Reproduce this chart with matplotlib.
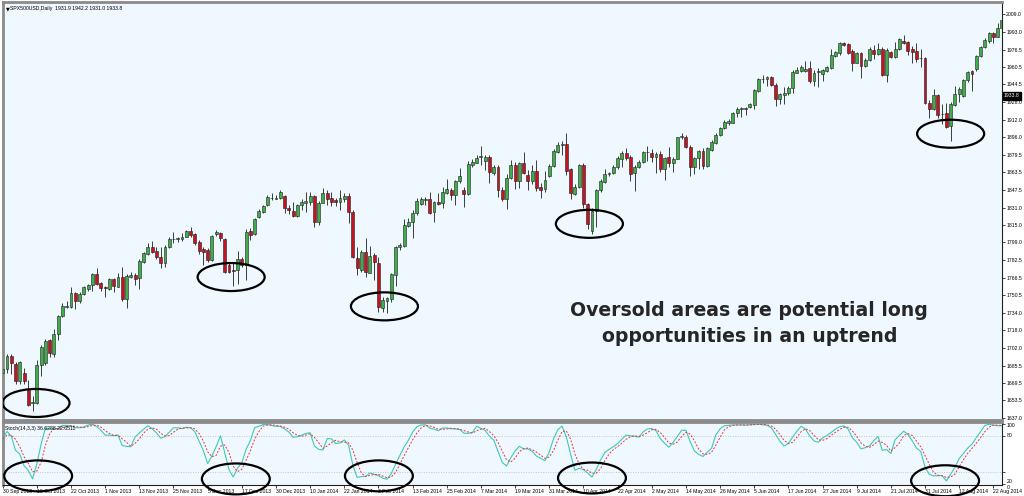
import matplotlib.pyplot as plt
import matplotlib.transforms as mtransforms
from matplotlib.patches import Ellipse
import numpy as np
import pandas as pd

# daily SPX500USD candles, 30 Sep 2013 .. 26 Aug 2014
opens = [1679.0, 1682.0, 1694.6, 1687.0, 1671.0, 1679.0, 1663.0, 1650.7, 1651.3, 1686.0,
         1687.6, 1709.0, 1696.1, 1714.6, 1731.1, 1739.8, 1739.7, 1752.0, 1745.3, 1751.4,
         1756.3, 1759.4, 1769.5, 1761.2, 1757.5, 1755.7, 1764.9, 1758.2, 1766.8, 1746.5,
         1767.4, 1768.9, 1765.8, 1781.2, 1788.2, 1795.0, 1790.7, 1785.8, 1780.3, 1794.4,
         1801.8, 1802.1, 1801.8, 1804.2, 1809.4, 1806.7, 1799.6, 1792.5, 1791.9, 1782.7,
         1806.4, 1807.3, 1801.8, 1778.1, 1773.5, 1773.5, 1783.3, 1778.1, 1809.7, 1806.6,
         1822.0, 1827.2, 1833.3, 1840.0, 1839.2, 1839.5, 1841.6, 1830.6, 1828.1, 1823.2,
         1833.3, 1834.9, 1836.4, 1841.6, 1818.0, 1835.5, 1844.7, 1839.5, 1837.9, 1836.4,
         1838.5, 1841.6, 1827.2, 1784.2, 1773.5, 1790.4, 1771.0, 1787.3, 1779.6, 1738.2,
         1745.2, 1746.4, 1768.9, 1794.3, 1795.6, 1814.0, 1818.0, 1825.7, 1834.2, 1838.0,
         1838.5, 1827.2, 1836.4, 1835.5, 1844.7, 1847.1, 1842.5, 1855.7, 1847.1, 1843.5,
         1870.2, 1872.3, 1877.5, 1874.2, 1877.2, 1863.1, 1868.6, 1847.1, 1838.6, 1857.9,
         1870.2, 1855.8, 1871.8, 1861.0, 1855.8, 1865.0, 1849.7, 1847.8, 1860.1, 1869.3,
         1882.5, 1889.0, 1889.6, 1866.2, 1843.5, 1849.6, 1870.2, 1834.3, 1809.7, 1828.1,
         1847.2, 1854.9, 1861.9, 1862.5, 1868.1, 1875.4, 1881.6, 1877.3, 1863.2, 1868.7,
         1873.3, 1882.2, 1881.6, 1877.3, 1880.4, 1866.2, 1877.3, 1872.4, 1876.0, 1896.0,
         1896.3, 1887.1, 1868.7, 1876.4, 1883.4, 1869.3, 1884.0, 1890.8, 1897.8, 1904.0,
         1908.6, 1909.2, 1917.8, 1922.2, 1922.0, 1923.3, 1925.5, 1938.7, 1949.1, 1949.1,
         1950.9, 1943.9, 1930.7, 1934.7, 1936.2, 1940.8, 1955.2, 1957.1, 1957.1, 1959.2,
         1947.9, 1956.0, 1954.0, 1957.1, 1959.2, 1970.6, 1973.6, 1982.9, 1981.6, 1975.5,
         1964.4, 1973.0, 1961.4, 1966.9, 1976.1, 1972.4, 1976.7, 1953.1, 1974.6, 1969.3,
         1976.7, 1984.7, 1983.8, 1976.7, 1975.5, 1968.6, 1968.4, 1927.6, 1921.5, 1934.7,
         1917.0, 1917.8, 1906.1, 1925.5, 1935.6, 1933.8, 1948.5, 1957.1, 1958.3, 1970.6,
         1979.2, 1984.7, 1992.1, 1988.4, 1996.1]
highs = [1686.0, 1696.0, 1696.0, 1689.0, 1690.0, 1683.0, 1672.0, 1657.0, 1690.6, 1704.0,
         1710.0, 1710.0, 1718.9, 1732.4, 1743.4, 1745.3, 1757.5, 1753.0, 1753.6, 1758.8,
         1761.0, 1770.4, 1775.7, 1762.8, 1758.8, 1765.8, 1765.8, 1771.1, 1776.0, 1769.8,
         1771.4, 1770.4, 1783.3, 1790.4, 1798.7, 1800.5, 1795.0, 1795.0, 1796.5, 1803.6,
         1808.8, 1804.2, 1807.3, 1810.3, 1812.8, 1807.3, 1801.2, 1795.0, 1793.5, 1805.7,
         1810.3, 1808.8, 1802.7, 1780.3, 1779.6, 1791.3, 1785.2, 1811.0, 1811.8, 1821.1,
         1829.3, 1833.3, 1842.6, 1844.7, 1842.5, 1847.1, 1842.5, 1833.3, 1836.4, 1834.3,
         1838.5, 1845.6, 1845.6, 1842.5, 1837.3, 1848.7, 1847.1, 1845.6, 1839.5, 1847.1,
         1844.1, 1844.1, 1828.7, 1794.3, 1792.0, 1802.6, 1795.6, 1788.8, 1785.1, 1748.9,
         1748.9, 1771.0, 1795.6, 1798.0, 1820.1, 1821.1, 1828.7, 1839.5, 1841.0, 1841.0,
         1845.6, 1837.3, 1844.7, 1850.2, 1857.0, 1848.7, 1856.4, 1867.1, 1850.2, 1874.2,
         1875.4, 1879.4, 1887.7, 1879.4, 1879.4, 1870.2, 1870.2, 1850.2, 1861.9, 1874.8,
         1873.3, 1873.3, 1882.5, 1865.6, 1870.2, 1874.8, 1853.3, 1865.0, 1871.1, 1884.6,
         1891.7, 1892.6, 1899.4, 1867.1, 1852.7, 1871.1, 1871.8, 1835.5, 1830.3, 1847.8,
         1857.0, 1866.2, 1863.5, 1870.2, 1878.5, 1883.4, 1885.6, 1879.4, 1870.2, 1874.8,
         1883.4, 1887.7, 1884.6, 1882.5, 1883.4, 1877.9, 1887.1, 1877.9, 1896.3, 1900.0,
         1897.8, 1888.6, 1877.9, 1884.0, 1885.6, 1887.1, 1893.2, 1899.4, 1905.5, 1911.7,
         1912.3, 1919.3, 1923.3, 1924.0, 1924.0, 1927.0, 1939.9, 1950.0, 1953.1, 1952.2,
         1952.2, 1945.4, 1936.8, 1941.7, 1943.0, 1957.7, 1960.8, 1962.3, 1966.3, 1966.3,
         1957.7, 1959.2, 1958.3, 1961.4, 1976.7, 1975.5, 1983.8, 1983.8, 1982.9, 1976.7,
         1974.6, 1974.6, 1968.4, 1979.2, 1980.7, 1982.3, 1979.2, 1977.6, 1975.5, 1983.8,
         1986.9, 1989.9, 1984.7, 1979.8, 1982.9, 1976.7, 1969.3, 1930.1, 1939.9, 1935.6,
         1926.4, 1927.6, 1928.5, 1943.0, 1941.7, 1949.1, 1957.1, 1957.7, 1971.5, 1979.8,
         1986.9, 1993.0, 1993.0, 2000.7, 2005.3]
lows = [1670.0, 1678.3, 1677.7, 1668.5, 1668.6, 1668.5, 1648.3, 1643.6, 1650.5, 1675.9,
        1686.0, 1693.7, 1693.7, 1709.0, 1729.9, 1738.8, 1738.8, 1737.3, 1743.4, 1750.5,
        1754.0, 1754.2, 1759.7, 1754.2, 1749.0, 1755.1, 1753.6, 1757.5, 1745.3, 1738.2,
        1766.5, 1759.7, 1755.7, 1780.3, 1787.3, 1789.5, 1783.3, 1775.0, 1776.0, 1793.5,
        1798.1, 1799.6, 1800.5, 1803.6, 1804.2, 1796.5, 1788.2, 1777.8, 1781.2, 1782.1,
        1805.0, 1800.5, 1771.0, 1770.4, 1758.8, 1760.6, 1776.6, 1764.0, 1801.1, 1805.7,
        1821.1, 1826.3, 1832.4, 1837.9, 1838.5, 1838.5, 1825.7, 1825.0, 1822.0, 1822.6,
        1828.7, 1827.2, 1833.3, 1813.4, 1814.9, 1834.9, 1833.3, 1832.4, 1832.4, 1828.7,
        1836.4, 1816.4, 1784.2, 1768.9, 1771.9, 1767.3, 1770.4, 1764.3, 1735.1, 1735.1,
        1733.6, 1744.3, 1758.7, 1791.9, 1795.0, 1812.8, 1802.6, 1824.1, 1833.3, 1833.3,
        1825.0, 1818.0, 1833.3, 1830.3, 1843.5, 1837.9, 1833.3, 1853.3, 1831.8, 1842.5,
        1868.6, 1871.7, 1870.2, 1865.6, 1853.3, 1860.9, 1841.0, 1837.3, 1829.4, 1857.0,
        1847.8, 1848.7, 1861.9, 1847.2, 1852.7, 1846.6, 1839.5, 1845.7, 1859.5, 1868.1,
        1881.6, 1879.4, 1861.0, 1838.6, 1842.6, 1848.7, 1830.3, 1811.0, 1806.7, 1812.8,
        1845.7, 1853.9, 1860.5, 1861.9, 1866.2, 1868.1, 1874.8, 1855.8, 1846.6, 1867.1,
        1872.4, 1874.2, 1873.3, 1862.5, 1864.1, 1856.4, 1868.1, 1864.1, 1875.4, 1893.9,
        1885.6, 1860.1, 1861.9, 1866.2, 1866.2, 1868.7, 1883.4, 1889.6, 1896.9, 1903.0,
        1907.1, 1908.6, 1914.7, 1914.1, 1916.3, 1922.4, 1921.5, 1937.7, 1946.0, 1943.0,
        1943.0, 1924.5, 1926.4, 1926.4, 1934.7, 1936.2, 1954.6, 1956.2, 1956.2, 1946.0,
        1943.0, 1941.7, 1947.9, 1956.2, 1958.3, 1970.0, 1971.5, 1979.8, 1972.4, 1957.1,
        1963.8, 1950.0, 1960.8, 1966.3, 1967.5, 1971.5, 1952.2, 1946.9, 1968.4, 1968.4,
        1976.1, 1981.6, 1971.5, 1964.4, 1965.4, 1960.8, 1926.4, 1913.2, 1920.9, 1913.2,
        1908.0, 1904.0, 1892.6, 1924.5, 1928.5, 1933.2, 1947.0, 1938.7, 1957.1, 1969.4,
        1977.6, 1982.3, 1982.3, 1987.8, 1994.5]
closes = [1682.0, 1694.6, 1687.5, 1671.0, 1688.8, 1671.0, 1648.9, 1652.2, 1686.0, 1702.3,
          1708.4, 1696.8, 1714.6, 1731.1, 1740.7, 1740.4, 1752.0, 1745.3, 1751.4, 1757.5,
          1759.4, 1769.5, 1761.0, 1757.0, 1757.0, 1764.9, 1758.8, 1766.8, 1746.8, 1768.0,
          1768.9, 1765.5, 1782.1, 1789.5, 1795.0, 1790.4, 1785.8, 1780.3, 1795.0, 1802.1,
          1802.1, 1802.4, 1804.2, 1809.4, 1805.7, 1798.1, 1790.7, 1790.4, 1782.7, 1804.8,
          1808.2, 1802.7, 1772.0, 1772.0, 1772.9, 1783.3, 1778.1, 1808.3, 1805.7, 1820.1,
          1828.1, 1832.4, 1841.0, 1839.5, 1839.5, 1845.6, 1830.3, 1828.7, 1823.2, 1833.3,
          1836.4, 1837.3, 1841.6, 1818.0, 1835.5, 1844.7, 1838.5, 1836.4, 1836.4, 1839.5,
          1841.6, 1827.2, 1785.1, 1775.0, 1790.4, 1771.9, 1786.4, 1781.2, 1739.1, 1745.8,
          1747.4, 1769.8, 1794.3, 1796.5, 1814.9, 1818.0, 1826.3, 1837.3, 1838.5, 1838.8,
          1826.3, 1836.4, 1834.2, 1845.6, 1847.8, 1842.5, 1855.7, 1860.0, 1843.5, 1871.1,
          1873.2, 1876.3, 1877.8, 1877.8, 1864.0, 1868.0, 1847.1, 1838.5, 1857.9, 1870.2,
          1855.8, 1871.8, 1862.5, 1855.8, 1865.0, 1848.7, 1847.2, 1856.4, 1869.3, 1883.4,
          1888.6, 1889.4, 1865.0, 1844.1, 1849.6, 1870.2, 1834.3, 1815.9, 1828.1, 1847.2,
          1855.8, 1861.9, 1862.2, 1868.1, 1876.4, 1881.6, 1876.4, 1861.9, 1868.7, 1873.3,
          1882.5, 1882.0, 1877.3, 1880.4, 1866.2, 1876.4, 1872.4, 1876.0, 1895.7, 1896.3,
          1887.1, 1868.7, 1876.4, 1883.4, 1869.3, 1885.6, 1891.7, 1897.8, 1904.0, 1910.1,
          1911.0, 1918.4, 1921.5, 1922.4, 1922.4, 1926.4, 1939.3, 1949.1, 1949.4, 1950.9,
          1943.9, 1930.7, 1935.6, 1936.8, 1940.8, 1956.2, 1957.7, 1960.8, 1958.3, 1947.9,
          1955.2, 1956.2, 1957.7, 1960.1, 1971.5, 1974.6, 1982.9, 1980.7, 1973.6, 1964.4,
          1973.0, 1961.4, 1966.9, 1976.7, 1972.4, 1976.7, 1953.1, 1976.1, 1969.3, 1976.7,
          1985.9, 1982.9, 1975.5, 1974.6, 1967.5, 1968.4, 1927.0, 1921.5, 1934.7, 1916.3,
          1917.2, 1905.5, 1926.4, 1935.6, 1939.9, 1948.5, 1956.2, 1954.0, 1970.6, 1979.2,
          1985.3, 1991.5, 1987.8, 1996.1, 2003.7]

# one date label every 8 bars
date_labels = ['30 Sep 2013', '10 Oct 2013', '22 Oct 2013', '1 Nov 2013', '13 Nov 2013',
               '25 Nov 2013', '5 Dec 2013', '17 Dec 2013', '30 Dec 2013', '10 Jan 2014',
               '22 Jan 2014', '3 Feb 2014', '13 Feb 2014', '25 Feb 2014', '7 Mar 2014',
               '19 Mar 2014', '31 Mar 2014', '10 Apr 2014', '22 Apr 2014', '2 May 2014',
               '14 May 2014', '26 May 2014', '5 Jun 2014', '17 Jun 2014', '27 Jun 2014',
               '9 Jul 2014', '21 Jul 2014', '31 Jul 2014', '12 Aug 2014', '22 Aug 2014']
price_ticks = [2009.0, 1993.0, 1976.5, 1960.5, 1944.5, 1928.0, 1912.0, 1896.0, 1879.5,
               1863.5, 1847.5, 1831.0, 1815.0, 1799.0, 1782.5, 1766.5, 1750.5, 1734.0,
               1718.0, 1702.0, 1685.5, 1669.5, 1653.5, 1637.0]
stoch_levels = [100, 80, 20, 0]
last_price = 1933.8
header = 'SPX500USD,Daily  1931.9 1942.2 1931.0 1933.8'
stoch_header = 'Stoch(14,3,3) 36.6288 22.6511'

# circled oversold spots: (bar, price) on the price chart, (bar, value) on the stochastic
main_circles = [(7.8, 1651.0), (53.5, 1767.0), (89.4, 1740.0), (137.4, 1816.0), (222.0, 1899.0)]
stoch_circles = [(8.3, 14.0), (54.6, 9.0), (88.1, 14.0), (138.0, 10.5), (220.7, 6.0)]

BG = '#F0F8FF'
UP, DOWN, EDGE = '#41ad4a', '#c3141f', '#1e1e1e'
SMALL = dict(family='Liberation Sans', fontsize=3.7)

W, H = 1024, 496
fig = plt.figure(figsize=(W / 100, H / 100), dpi=100)


def px_box(x0, y0, x1, y1):
    return [x0 / W, 1 - y1 / H, (x1 - x0) / W, (y1 - y0) / H]


ax = fig.add_axes(px_box(2.5, 2, 1002, 420))
ax2 = fig.add_axes(px_box(2.5, 422, 1002, 485), sharex=ax)

o = np.array(opens)
h = np.array(highs)
l = np.array(lows)
c = np.array(closes)
x = np.arange(len(c))
up = c >= o
cols = np.where(up, UP, DOWN)

# candles
ax.vlines(x, l, h, color=EDGE, linewidth=0.6, zorder=2)
body = np.maximum(np.abs(c - o), 0.6)
ax.bar(x, body, bottom=np.minimum(o, c), width=0.68, color=cols,
       edgecolor=EDGE, linewidth=0.4, zorder=3)

ax.set_facecolor(BG)
ax.set_xlim((2.5 - 2.7) / 4.27, (1002 - 2.7) / 4.27)
ax.set_ylim(2009 - 405.7 / 1.0857, 2009 + 12.3 / 1.0857)
ax.yaxis.tick_right()
ax.set_yticks(price_ticks)
ax.set_yticklabels([f'{p:.1f}' for p in price_ticks], **SMALL)
ax.tick_params(axis='y', length=2, width=0.5, pad=1)
ax.tick_params(axis='x', bottom=False, labelbottom=False)
for s in ['left', 'top', 'bottom']:
    ax.spines[s].set_color('#8a8a8a')
    ax.spines[s].set_linewidth(2)
ax.spines['right'].set_color('#202020')
ax.spines['right'].set_linewidth(0.8)

# current price box on the price scale
trans = mtransforms.blended_transform_factory(ax.transAxes, ax.transData)
ax.text(1.0018, last_price, f'{last_price:.1f}', transform=trans, ha='left', va='center',
        color='white', bbox=dict(facecolor='black', edgecolor='black', pad=0.8), **SMALL)

ax.text(0.0035, 0.99, '\u25bc', transform=ax.transAxes, ha='left', va='top',
        fontsize=3.5, family='DejaVu Sans')
ax.text(0.0075, 0.991, header, transform=ax.transAxes, ha='left', va='top', **SMALL)

ax.text(746.5 / 999.5, 1 - (316 - 2) / 418, 'Oversold areas are potential long',
        transform=ax.transAxes, ha='center', va='baseline', fontsize=13.6,
        fontweight='bold', family='DejaVu Sans', color='#262626')
ax.text(747.5 / 999.5, 1 - (341.5 - 2) / 418, 'opportunities in an uptrend',
        transform=ax.transAxes, ha='center', va='baseline', fontsize=13.6,
        fontweight='bold', family='DejaVu Sans', color='#262626')

for bx, by in main_circles:
    ax.add_patch(Ellipse((bx, by), 15.7, 25.8, fill=False, edgecolor='black',
                         linewidth=1.6, zorder=5))

# stochastic oscillator (14,3,3) from the candles
hh = pd.Series(h).rolling(14, min_periods=1).max()
ll = pd.Series(l).rolling(14, min_periods=1).min()
cs = pd.Series(c)
k = 100 * (cs - ll).rolling(3, min_periods=1).sum() / (hh - ll).rolling(3, min_periods=1).sum()
d = k.rolling(3, min_periods=1).mean()

ax2.set_facecolor(BG)
ax2.plot(x, k, color='#3fc9b6', linewidth=0.8, zorder=3)
ax2.plot(x, d, color='#e4363f', linewidth=0.7, linestyle=(0, (2, 1.6)), zorder=3)
for lv in [80, 20]:
    ax2.axhline(lv, color='#b4b4b4', linewidth=0.5, linestyle=(0, (1.5, 2)), zorder=1)
ax2.set_ylim(-1, 102.5)
ax2.yaxis.tick_right()
ax2.set_yticks(stoch_levels)
ax2.set_yticklabels([])
ax2.tick_params(axis='y', length=2, width=0.5)
strans = mtransforms.blended_transform_factory(ax2.transAxes, ax2.transData)
label_shift = [-4, 0, -15, -4.5]
for lv, sh in zip(stoch_levels, label_shift):
    ax2.text(1.0045, lv + sh, str(lv), transform=strans, ha='left', va='center', **SMALL)

ax2.set_xticks(np.arange(0, len(date_labels) * 8, 8))
ax2.set_xticklabels(date_labels, ha='left', **SMALL)
ax2.tick_params(axis='x', length=2.2, width=0.5, pad=0.8)
for s in ['left', 'top']:
    ax2.spines[s].set_color('#8a8a8a')
    ax2.spines[s].set_linewidth(2)
for s in ['right', 'bottom']:
    ax2.spines[s].set_color('#202020')
    ax2.spines[s].set_linewidth(0.8)
ax2.text(0.0025, 0.93, stoch_header, transform=ax2.transAxes, ha='left', va='top', **SMALL)

for bx, by in stoch_circles:
    ax2.add_patch(Ellipse((bx, by), 15.9, 50.8, fill=False, edgecolor='black',
                          linewidth=1.6, zorder=5, clip_on=False))

fig.savefig('out.png', dpi=100, facecolor='white')
